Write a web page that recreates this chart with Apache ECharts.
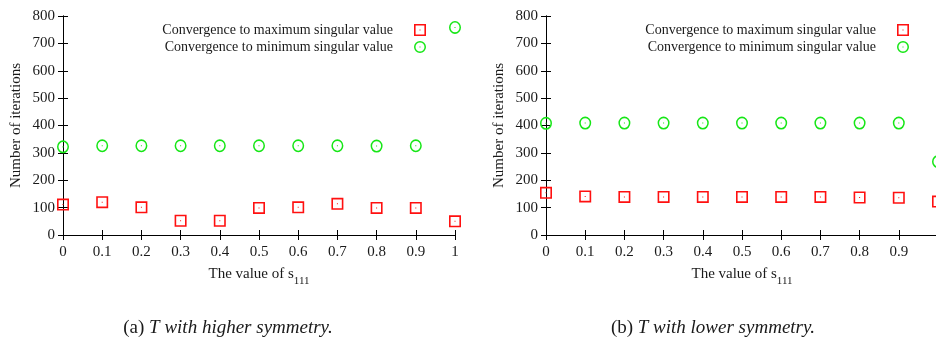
<!DOCTYPE html>
<html>
<head>
<meta charset="utf-8">
<script src="https://cdn.jsdelivr.net/npm/echarts@6/dist/echarts.min.js"></script>
<style>
html,body{margin:0;padding:0;background:#fff;}
#chart{width:936px;height:345px;}
</style>
</head>
<body>
<div id="chart"></div>
<script>
// ---- data ----
const sValues = [0, 0.1, 0.2, 0.3, 0.4, 0.5, 0.6, 0.7, 0.8, 0.9, 1];
const leftMax = [111, 120, 101, 52, 52, 99, 101, 114, 99, 99, 50];
const leftMin = [322, 326, 326, 326, 326, 326, 326, 326, 325, 326, 758];
const rightMax = [154, 141, 139, 139, 139, 139, 139, 139, 137, 136, 122];
const rightMin = [408, 409, 409, 409, 409, 409, 409, 409, 409, 409, 268];
const yTicks = [0, 100, 200, 300, 400, 500, 600, 700, 800];
const nameMax = 'Convergence to maximum singular value';
const nameMin = 'Convergence to minimum singular value';
const captions = ['(a) ', '(b) '];
const captionTexts = ['with higher symmetry.', 'with lower symmetry.'];

const FONT = 'Liberation Serif';
const TXT = '#1a1a1a';
const RED = '#ff1010';
const GREEN = '#16e616';

const squarePath = 'path://M0,0H12V12H0Z M1.6,1.6V10.4H10.4V1.6Z M5.5,5.5H6.5V6.5H5.5Z';
const circlePath = 'path://M6,0A6,6 0 1,1 6,12A6,6 0 1,1 6,0Z M6,1.5A4.5,4.5 0 1,0 6,10.5A4.5,4.5 0 1,0 6,1.5Z M5.5,5.5H6.5V6.5H5.5Z';

function pairs(xs, ys) { return xs.map((x, i) => [x, ys[i]]); }

const grids = [
  { left: 63, top: 16, width: 392, height: 219, outerBoundsMode: 'none', containLabel: false },
  { left: 546, top: 16, width: 392, height: 219, outerBoundsMode: 'none', containLabel: false }
];

const axisLine = { show: true, lineStyle: { color: '#000', width: 1 } };
const tickIn = { show: true, inside: true, length: 5, lineStyle: { color: '#000', width: 1 } };

const xAxes = [];
const yAxes = [];
[0, 1].forEach(g => {
  xAxes.push({
    type: 'value', gridIndex: g, min: 0, max: 1, interval: 0.1, position: 'bottom',
    axisLine, axisTick: tickIn, splitLine: { show: false },
    axisLabel: {
      margin: 10, color: TXT, fontFamily: FONT, fontSize: 15,
      formatter: v => (v === 0 ? '0' : (Math.abs(v - 1) < 1e-9 ? (g === 0 ? '1' : '') : v.toFixed(1)))
    },
    name: '{a|The value of s}{b|111}', nameLocation: 'middle', nameGap: 32,
    nameTextStyle: {
      color: TXT, fontFamily: FONT, fontSize: 15,
      rich: {
        a: { fontFamily: FONT, fontSize: 15, color: TXT, verticalAlign: 'top' },
        b: { fontFamily: FONT, fontSize: 11, color: TXT, verticalAlign: 'top', padding: [9, 0, 0, 0] }
      }
    }
  });
  xAxes.push({
    type: 'value', gridIndex: g, min: 0, max: 1, interval: 0.1, position: 'top',
    axisLine, axisTick: tickIn, splitLine: { show: false }, axisLabel: { show: false }
  });
  yAxes.push({
    type: 'value', gridIndex: g, min: 0, max: 800, interval: 100, position: 'left',
    axisLine, axisTick: tickIn, splitLine: { show: false },
    axisLabel: { margin: 8, color: TXT, fontFamily: FONT, fontSize: 15,
      formatter: v => (yTicks.indexOf(v) >= 0 ? String(v) : '') },
    name: 'Number of iterations', nameLocation: 'middle', nameGap: 39, nameRotate: 90,
    nameTextStyle: { color: TXT, fontFamily: FONT, fontSize: 15 }
  });
  yAxes.push({
    type: 'value', gridIndex: g, min: 0, max: 800, interval: 100, position: 'right',
    axisLine, axisTick: tickIn, splitLine: { show: false }, axisLabel: { show: false }
  });
});

function scatter(name, g, data, symbol, size, color) {
  return {
    type: 'scatter', name, xAxisIndex: g * 2, yAxisIndex: g * 2,
    data, symbol, symbolSize: size, clip: false,
    itemStyle: { color, opacity: 1 },
    emphasis: { disabled: true },
    z: 3
  };
}

const series = [
  scatter(nameMax, 0, pairs(sValues, leftMax), squarePath, 12, RED),
  scatter(nameMin, 0, pairs(sValues, leftMin), circlePath, [12, 13], GREEN),
  scatter(nameMax, 1, pairs(sValues, rightMax), squarePath, 12, RED),
  scatter(nameMin, 1, pairs(sValues, rightMin), circlePath, [12, 13], GREEN)
];

function legend(right) {
  return {
    show: true, orient: 'vertical', align: 'right', right, top: 23,
    padding: 0, itemGap: 3, itemWidth: 44, itemHeight: 12,
    selectedMode: false,
    textStyle: { color: TXT, fontFamily: FONT, fontSize: 14 },
    data: [nameMax, nameMin]
  };
}

const captionGraphics = [228, 713].map((cx, i) => ({
  type: 'text', x: cx, y: 328,
  style: {
    text: '{r|' + captions[i] + '}{m|T}{r| }{i|' + captionTexts[i] + '}',
    align: 'center', verticalAlign: 'middle',
    rich: {
      r: { fontFamily: FONT, fontSize: 19, fill: TXT },
      m: { fontFamily: FONT, fontSize: 19, fontStyle: 'italic', fill: TXT },
      i: { fontFamily: FONT, fontSize: 19, fontStyle: 'italic', fill: TXT }
    }
  }
}));

const chart = echarts.init(document.getElementById('chart'), null, { renderer: 'canvas' });
chart.setOption({
  animation: false,
  backgroundColor: '#fff',
  grid: grids,
  xAxis: xAxes,
  yAxis: yAxes,
  legend: [legend(510), legend(27)],
  series,
  graphic: captionGraphics
});
</script>
</body>
</html>
